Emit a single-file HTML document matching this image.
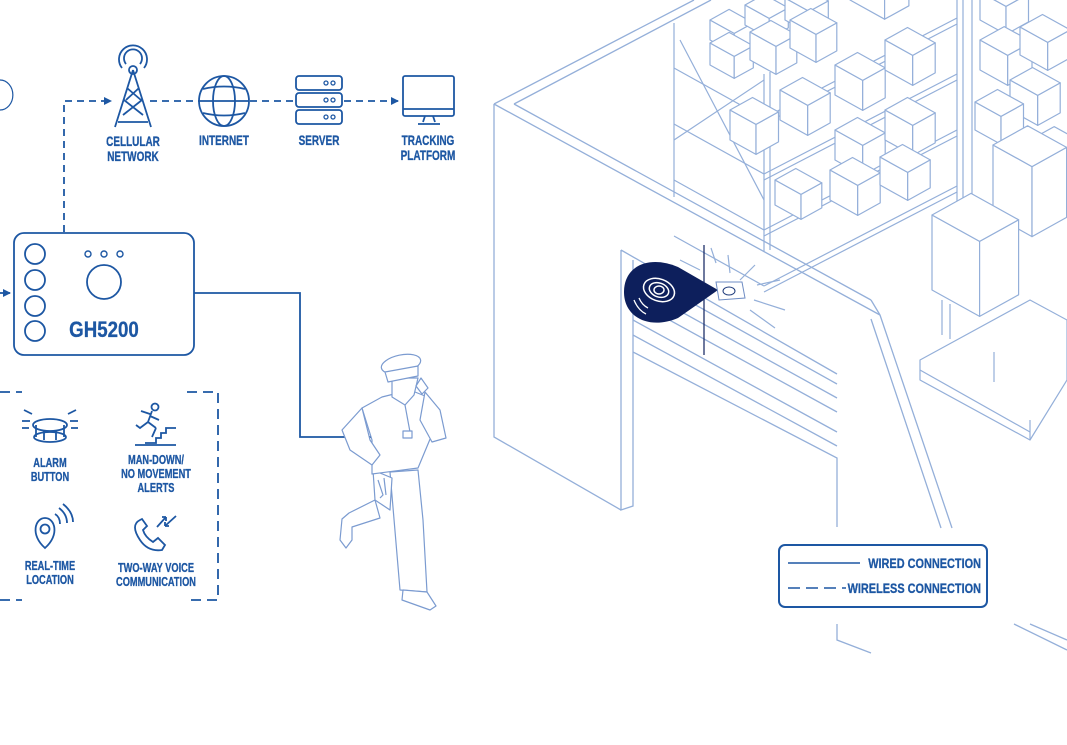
<!DOCTYPE html>
<html><head><meta charset="utf-8"><style>
html,body{margin:0;padding:0;background:#fff}
svg{display:block}
.t{font-family:"Liberation Sans",sans-serif;font-weight:bold;fill:#1d57a3;text-anchor:middle;stroke:#1d57a3;stroke-width:0.3}
</style></head><body>
<svg id="s" width="1067" height="745" viewBox="0 0 1067 745" xmlns="http://www.w3.org/2000/svg">
<defs>
<marker id="ar" markerWidth="8" markerHeight="8" refX="7" refY="4" orient="auto" markerUnits="userSpaceOnUse"><path d="M0,0 L8,4 L0,8 z" fill="#1d57a3"/></marker>
</defs>
<g id="wh" fill="none" stroke="#94afd9" stroke-width="1.2" stroke-linejoin="round"></g>

<g fill="none" stroke="#94afd9" stroke-width="1.3">
<path d="M494,104 L694,0 M514,104 L711,0 M494,104 L880,315 M514,104 L871,300 M494,104 L494,437 L621,510"/>
<path d="M880,315 L952,528 M871,319 L941,528 M871,300 L880,315"/>
<path d="M621,250 L621,510 L633,506 L633,260 M621,250 L837,374 M633,270 L837,384 M633,285 L837,398 M633,300 L837,412 M633,320 L837,432 M633,335 L837,446 M633,352 L837,458 L837,527"/>
<path d="M837,624 L837,640 L871,653 M1014,624 L1067,650 M1030,624 L1067,640"/>
</g>
<g>
<line x1="704" y1="245" x2="704" y2="355" stroke="#0d1f5c" stroke-width="1.2"/>
<path d="M718,290 L678,267 C650,255 624,265 624,292 C624,318 650,330 678,318 Z" fill="#0d1f5c"/>
<ellipse cx="659" cy="290" rx="16" ry="11" fill="none" stroke="#fff" stroke-width="1.5" transform="rotate(20 659 290)"/>
<ellipse cx="659" cy="290" rx="10" ry="7" fill="none" stroke="#fff" stroke-width="1.5" transform="rotate(20 659 290)"/>
<ellipse cx="659" cy="290" rx="5" ry="4" fill="none" stroke="#fff" stroke-width="1.5"/>
<path d="M634,300 q4,10 12,14 M639,298 q3,7 9,10" stroke="#fff" fill="none" stroke-width="1.3"/>
<path d="M716,282 L742,282 L745,298 L719,300 Z" fill="#fff" stroke="#6f8dc4"/>
<ellipse cx="729" cy="291" rx="6" ry="4" fill="none" stroke="#1d3a7a"/>
<g stroke="#94afd9" stroke-width="1.2"><path d="M711,248 L716,263 M728,255 L730,273 M755,265 L740,280 M757,285 L780,280 M754,300 L785,310 M750,310 L775,328 M680,260 L700,270"/></g>
</g>

<g fill="none" stroke="#1d57a3" stroke-width="1.8">
<path d="M64,232 L64,101 L111,101" stroke-dasharray="7,5" marker-end="url(#ar)"/>
<path d="M150,101 L199,101 M250,101 L296,101" stroke-dasharray="7,5"/>
<path d="M344,101 L398,101" stroke-dasharray="7,5" marker-end="url(#ar)"/>
<path d="M133,70 L115,127 M133,70 L151,127 M124,100 L143,115 M142,100 L123,115 M127,88 L141,100 M139,88 L126,100 M118,122 L148,122"/>
<circle cx="133" cy="70" r="4"/>
<path d="M126,64 a9,9 0 1 1 14,0 M122,68 a14,14 0 1 1 22,0"/>
<circle cx="224" cy="101" r="25"/>
<ellipse cx="224" cy="101" rx="11" ry="25"/>
<path d="M199,101 L249,101 M203,89 Q224,84 245,89 M203,113 Q224,118 245,113"/>
<rect x="296" y="76" width="46" height="14" rx="3"/><rect x="296" y="93" width="46" height="14" rx="3"/><rect x="296" y="110" width="46" height="14" rx="3"/>
<g stroke-width="1.3"><circle cx="326" cy="83" r="2"/><circle cx="333" cy="83" r="2"/><circle cx="326" cy="100" r="2"/><circle cx="333" cy="100" r="2"/><circle cx="326" cy="117" r="2"/><circle cx="333" cy="117" r="2"/></g>
<rect x="403" y="76" width="51" height="40" rx="2"/><path d="M403,109 L454,109 M425,116 L423,122 M433,116 L435,122 M418,124 L440,124"/>
<rect x="14" y="233" width="180" height="122" rx="10"/>
<circle cx="35" cy="254" r="10"/><circle cx="35" cy="280" r="10"/><circle cx="35" cy="306" r="10"/><circle cx="35" cy="331" r="10"/>
<circle cx="88" cy="254" r="3" stroke-width="1.4"/><circle cx="104" cy="254" r="3" stroke-width="1.4"/><circle cx="120" cy="254" r="3" stroke-width="1.4"/>
<circle cx="104" cy="282" r="17"/>
<path d="M0,293 L10,293" marker-end="url(#ar)"/>
<path d="M194,293 L300,293 L300,437 L402,437" marker-end="url(#ar)"/>
<path d="M0,392 L22,392 M187,392 L218,392 L218,600 L187,600 M0,600 L22,600" stroke-dasharray="10,6"/>
<path d="M0,80 a12,14 0 0 1 0,30" stroke-width="1.2"/>
</g>
<text class="t" font-size="13.5"><tspan x="133" y="146">CELLULAR</tspan><tspan x="133" y="161">NETWORK</tspan></text>
<text class="t" font-size="13.5" x="224" y="145">INTERNET</text>
<text class="t" font-size="13.5" x="319" y="145">SERVER</text>
<text class="t" font-size="13.5"><tspan x="428" y="145">TRACKING</tspan><tspan x="428" y="160">PLATFORM</tspan></text>
<text class="t" font-size="22" x="104" y="337">GH5200</text>

<g fill="none" stroke="#1d57a3" stroke-width="1.8">
<ellipse cx="50" cy="425" rx="17" ry="6"/><ellipse cx="50" cy="437" rx="16" ry="5"/><path d="M36,425 L36,437 M64,425 L64,437 M44,430 L44,440 M56,430 L56,440"/>
<path d="M24,410 L32,414 M76,410 L68,414 M22,421 L30,421 M78,421 L70,421 M22,428 L29,428 M78,428 L71,428"/>
<circle cx="155" cy="407" r="3.5"/><path d="M152,411 L148,422 L156,428 M150,414 L141,411 M150,416 L159,420 M148,422 L140,428 L136,425 M156,428 L152,437 M145,443 L156,443 L156,438 L161,438 L161,433 L166,433 L166,428 L176,428 M135,445 L176,445"/>
<path d="M45,548 C30,535 35,518 45,518 C55,518 60,535 45,548 Z"/><circle cx="45" cy="529" r="4.5"/>
<path d="M55,514 q5,3 5,10 M59,508 q8,6 8,15 M63,504 q10,8 10,18"/>
<path d="M140,520 q-10,5 0,20 q8,12 22,10 l3,-5 l-7,-7 l-5,4 q-8,-5 -10,-12 l4,-4 l-5,-7 z"/>
<path d="M157,527 L166,517 M176,516 L165,526" /><path d="M166,517 l-4,0 M166,517 l0,4 M165,526 l4,0 M165,526 l0,-4"/>
</g>
<text class="t" font-size="12.5"><tspan x="50" y="467">ALARM</tspan><tspan x="50" y="481">BUTTON</tspan></text>
<text class="t" font-size="12.5"><tspan x="156" y="464">MAN-DOWN/</tspan><tspan x="156" y="478">NO MOVEMENT</tspan><tspan x="156" y="492">ALERTS</tspan></text>
<text class="t" font-size="12.5"><tspan x="50" y="570">REAL-TIME</tspan><tspan x="50" y="584">LOCATION</tspan></text>
<text class="t" font-size="12.5"><tspan x="156" y="572">TWO-WAY VOICE</tspan><tspan x="156" y="586">COMMUNICATION</tspan></text>

<g fill="#fff" stroke="#7b9bd0" stroke-width="1.2" stroke-linejoin="round">
<path d="M375,500 L349,513 L342,519 L340,540 L346,548 L352,540 L352,527 L380,518 Z"/>
<path d="M390,472 L400,590 L427,592 L423,520 L418,470 Z"/>
<path d="M403,590 L402,600 L430,610 L436,606 L427,592 Z"/>
<path d="M373,470 L375,500 L390,510 L392,478 Z"/>
<path d="M362,408 L382,397 L410,390 L430,398 L438,420 L418,468 L372,474 L372,440 Z"/>
<path d="M362,408 L342,430 L350,450 L372,465 L380,455 L370,440 Z"/>
<path d="M425,392 L440,410 L446,438 L432,442 L420,420 Z"/>
<path d="M392,378 L392,397 L405,405 L414,395 L418,378 Z"/>
<ellipse cx="401" cy="364" rx="20" ry="9" transform="rotate(-12 401 364)"/>
<path d="M385,372 L418,366 L418,376 L388,382 Z"/>
<path d="M421,378 L428,388 L422,394 L416,386 Z"/>
<path d="M405,405 L410,432" fill="none"/><rect x="403" y="431" width="9" height="7"/>
<path d="M378,480 L383,495 L380,498 M384,478 L386,495" fill="none"/>
</g>

<rect x="779" y="545" width="208" height="62" rx="6" fill="#fff" stroke="#1d57a3" stroke-width="2"/>
<path d="M788,563 L860,563" stroke="#1d57a3" stroke-width="1.6"/>
<path d="M788,588 L846,588" stroke="#1d57a3" stroke-width="1.6" stroke-dasharray="12,6"/>
<text class="t" font-size="14" x="981" y="568" style="text-anchor:end">WIRED CONNECTION</text>
<text class="t" font-size="14" x="981" y="593" style="text-anchor:end">WIRELESS CONNECTION</text>
</svg>
<script>
(function(){
var ts=document.querySelectorAll('text.t');
for(var i=0;i<ts.length;i++){var t=ts[i];var x=t.getAttribute('x');if(x===null){x=t.querySelector('tspan').getAttribute('x');}
 var fs=t.getAttribute('font-size');var s=fs=='22'?0.85:(fs=='14'?0.78:0.74);
 t.setAttribute('transform','translate('+x+' 0) scale('+s+' 1) translate('+(-x)+' 0)');}
var g=document.getElementById('wh'),ns='http://www.w3.org/2000/svg';
function P(pts){var p=document.createElementNS(ns,'polygon');p.setAttribute('points',pts.map(function(q){return q[0].toFixed(1)+','+q[1].toFixed(1)}).join(' '));p.setAttribute('fill','#fff');g.appendChild(p);}
function L(a,b,c,d){var l=document.createElementNS(ns,'line');l.setAttribute('x1',a);l.setAttribute('y1',b);l.setAttribute('x2',c);l.setAttribute('y2',d);g.appendChild(l);}
var ux=0.866,uy=-0.48,vx=0.866,vy=0.48;
function cube(x,y,a,b,h){
 var p0=[x,y],p1=[x+a*ux,y+a*uy],p2=[x+a*ux+b*vx,y+a*uy+b*vy],p3=[x+b*vx,y+b*vy];
 function up(p){return [p[0],p[1]-h];}
 P([p0,p3,up(p3),up(p0)]);P([p3,p2,up(p2),up(p3)]);P([up(p0),up(p1),up(p2),up(p3)]);
}
L(674,23,674,197);L(764,74,764,252);L(770,72,770,250);L(957,0,957,216);L(963,0,963,212);L(972,0,972,206);
for(var i=0;i<4;i++){var y=118+i*56;L(764,y,957,y-100);L(764,y+6,957,y-94);L(674,y-50,764,y);}
L(680,40,764,200);L(674,140,764,80);
cube(710,40,22,28,20);cube(745,25,22,28,20);cube(785,20,22,28,22);cube(850,0,28,40,25);
cube(710,65,22,28,22);cube(750,60,24,30,28);cube(790,48,24,30,28);
cube(835,95,26,32,30);cube(885,70,26,32,30);
cube(730,140,26,30,30);cube(780,120,26,32,30);
cube(835,160,26,32,30);cube(885,140,26,32,30);
cube(775,205,24,30,25);cube(830,200,26,32,30);cube(880,185,26,32,28);
cube(980,20,26,30,28);cube(980,70,28,32,30);cube(1010,110,26,32,30);cube(1020,55,26,32,28);
cube(975,130,26,30,28);cube(1030,170,28,30,30);
P([[920,360],[1030,300],[1067,320],[1067,380],[1030,440],[920,380]]);
L(920,370,1030,432);L(1030,440,1030,420);
cube(993,215,40,45,70);
cube(932,290,45,55,75);
L(942,300,942,335);L(950,304,950,339);L(994,382,994,352);
})();
</script>
</body></html>
